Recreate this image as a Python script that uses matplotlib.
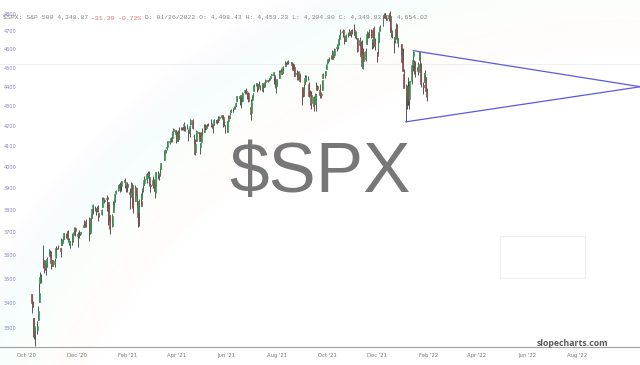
import numpy as np
import pandas as pd
import matplotlib
matplotlib.use('Agg')
import matplotlib.pyplot as plt
import matplotlib.dates as mdates
from matplotlib.patches import Rectangle

# ---- data: $SPX daily candles (open, high, low, close) ----
ohlc_2020_10 = [(3441, 3441, 3364, 3401), (3404, 3409, 3388, 3391), (3342, 3342, 3268, 3271),
                (3278, 3341, 3259, 3310), (3293, 3305, 3234, 3270)]
ohlc_2020_11 = [(3296, 3330, 3280, 3310), (3336, 3389, 3336, 3370), (3406, 3486, 3405, 3443),
                (3485, 3529, 3485, 3510), (3508, 3521, 3484, 3509), (3583, 3646, 3547, 3551),
                (3544, 3558, 3526, 3545), (3563, 3581, 3557, 3572), (3563, 3570, 3519, 3537),
                (3552, 3593, 3552, 3585), (3600, 3628, 3600, 3627), (3610, 3624, 3595, 3610),
                (3612, 3619, 3567, 3568), (3559, 3585, 3543, 3582), (3580, 3582, 3556, 3558),
                (3566, 3589, 3553, 3577), (3594, 3643, 3592, 3635), (3635, 3638, 3617, 3629),
                (3638, 3645, 3630, 3638), (3634, 3634, 3594, 3622)]
ohlc_2020_12 = [(3645, 3678, 3645, 3662), (3653, 3670, 3645, 3669), (3669, 3682, 3661, 3666),
                (3670, 3699, 3670, 3699), (3694, 3697, 3678, 3691), (3683, 3708, 3678, 3702),
                (3706, 3712, 3660, 3672), (3659, 3678, 3645, 3668), (3656, 3665, 3633, 3663),
                (3675, 3697, 3645, 3647), (3667, 3695, 3659, 3695), (3696, 3711, 3689, 3702),
                (3713, 3725, 3710, 3722), (3722, 3726, 3685, 3709), (3685, 3703, 3636, 3695),
                (3691, 3698, 3676, 3687), (3694, 3712, 3689, 3690), (3694, 3703, 3689, 3703),
                (3723, 3740, 3723, 3735), (3750, 3756, 3723, 3727), (3736, 3744, 3730, 3732),
                (3733, 3760, 3726, 3756)]
ohlc_2021_01 = [(3764, 3770, 3663, 3701), (3699, 3737, 3695, 3726), (3712, 3784, 3706, 3748),
                (3764, 3811, 3764, 3804), (3815, 3827, 3784, 3825), (3803, 3818, 3795, 3799),
                (3801, 3811, 3777, 3801), (3802, 3820, 3791, 3810), (3815, 3823, 3792, 3795),
                (3788, 3789, 3750, 3768), (3781, 3804, 3780, 3799), (3816, 3859, 3816, 3852),
                (3857, 3861, 3845, 3853), (3845, 3852, 3831, 3841), (3852, 3860, 3797, 3855),
                (3862, 3870, 3847, 3849), (3836, 3836, 3732, 3751), (3755, 3830, 3755, 3787),
                (3778, 3778, 3694, 3714)]
ohlc_2021_02 = [(3731, 3784, 3725, 3774), (3791, 3843, 3791, 3826), (3840, 3847, 3816, 3830),
                (3837, 3872, 3837, 3872), (3878, 3894, 3874, 3887), (3892, 3915, 3886, 3915),
                (3910, 3919, 3903, 3911), (3920, 3931, 3885, 3910), (3917, 3925, 3890, 3916),
                (3911, 3935, 3898, 3934), (3939, 3950, 3923, 3932), (3918, 3933, 3901, 3931),
                (3915, 3921, 3885, 3913), (3921, 3931, 3884, 3907), (3885, 3902, 3868, 3876),
                (3865, 3895, 3805, 3881), (3873, 3928, 3860, 3925), (3915, 3926, 3817, 3829),
                (3839, 3861, 3789, 3811)]
ohlc_2021_03 = [(3842, 3914, 3842, 3901), (3903, 3906, 3868, 3870), (3863, 3875, 3818, 3820),
                (3818, 3843, 3723, 3768), (3793, 3851, 3730, 3842), (3844, 3881, 3819, 3821),
                (3851, 3903, 3851, 3875), (3891, 3918, 3885, 3898), (3915, 3960, 3915, 3939),
                (3925, 3944, 3915, 3943), (3943, 3970, 3924, 3969), (3974, 3981, 3953, 3963),
                (3949, 3984, 3935, 3974), (3953, 3969, 3910, 3915), (3914, 3921, 3885, 3913),
                (3916, 3956, 3910, 3940), (3937, 3949, 3902, 3911), (3919, 3942, 3889, 3889),
                (3880, 3919, 3854, 3910), (3917, 3978, 3913, 3975), (3969, 3981, 3943, 3971),
                (3964, 3969, 3940, 3959), (3967, 3994, 3965, 3973)]
ohlc_2021_04 = [(3992, 4021, 3992, 4020), (4034, 4084, 4034, 4078), (4075, 4087, 4069, 4074),
                (4074, 4083, 4068, 4080), (4090, 4098, 4082, 4097), (4096, 4129, 4095, 4129),
                (4124, 4131, 4114, 4128), (4131, 4148, 4124, 4142), (4141, 4151, 4120, 4125),
                (4140, 4174, 4140, 4171), (4174, 4191, 4171, 4185), (4180, 4180, 4150, 4163),
                (4159, 4160, 4119, 4135), (4128, 4175, 4126, 4173), (4170, 4179, 4126, 4135),
                (4138, 4194, 4138, 4180), (4185, 4194, 4182, 4188), (4188, 4194, 4182, 4187),
                (4185, 4201, 4181, 4184), (4206, 4219, 4176, 4211), (4198, 4199, 4174, 4181)]
ohlc_2021_05 = [(4191, 4210, 4188, 4193), (4180, 4187, 4128, 4165), (4178, 4187, 4164, 4168),
                (4170, 4203, 4148, 4202), (4210, 4238, 4208, 4233), (4229, 4236, 4188, 4189),
                (4151, 4163, 4111, 4152), (4131, 4135, 4057, 4063), (4074, 4131, 4069, 4113),
                (4129, 4183, 4129, 4174), (4170, 4172, 4143, 4164), (4166, 4170, 4127, 4128),
                (4098, 4117, 4062, 4116), (4121, 4172, 4121, 4160), (4169, 4189, 4152, 4156),
                (4170, 4209, 4170, 4198), (4205, 4213, 4181, 4188), (4191, 4202, 4188, 4196),
                (4201, 4213, 4197, 4201), (4210, 4218, 4203, 4204)]
ohlc_2021_06 = [(4216, 4235, 4197, 4202), (4207, 4216, 4198, 4209), (4206, 4206, 4168, 4193),
                (4207, 4234, 4207, 4230), (4229, 4232, 4216, 4227), (4233, 4236, 4209, 4227),
                (4232, 4237, 4219, 4220), (4229, 4249, 4221, 4239), (4242, 4249, 4232, 4247),
                (4248, 4255, 4235, 4255), (4255, 4257, 4239, 4246), (4248, 4252, 4196, 4224),
                (4220, 4233, 4203, 4222), (4204, 4204, 4164, 4166), (4173, 4226, 4173, 4224),
                (4224, 4255, 4217, 4246), (4249, 4256, 4241, 4242), (4256, 4272, 4256, 4266),
                (4274, 4287, 4271, 4281), (4285, 4292, 4274, 4291), (4293, 4301, 4287, 4291),
                (4291, 4302, 4287, 4298)]
ohlc_2021_07 = [(4300, 4321, 4300, 4320), (4327, 4356, 4326, 4352), (4356, 4358, 4305, 4344),
                (4351, 4361, 4329, 4358), (4321, 4331, 4290, 4321), (4329, 4372, 4329, 4370),
                (4372, 4387, 4362, 4385), (4382, 4393, 4368, 4369), (4381, 4383, 4362, 4375),
                (4369, 4369, 4340, 4360), (4368, 4376, 4322, 4327), (4296, 4296, 4233, 4259),
                (4266, 4337, 4260, 4323), (4331, 4359, 4330, 4359), (4361, 4369, 4351, 4368),
                (4382, 4415, 4381, 4412), (4409, 4422, 4406, 4422), (4417, 4417, 4373, 4401),
                (4402, 4415, 4387, 4400), (4404, 4430, 4403, 4419), (4396, 4412, 4387, 4395)]
ohlc_2021_08 = [(4407, 4423, 4382, 4387), (4392, 4423, 4374, 4423), (4416, 4416, 4401, 4403),
                (4406, 4430, 4403, 4429), (4429, 4441, 4427, 4437), (4437, 4440, 4426, 4432),
                (4436, 4445, 4430, 4436), (4442, 4449, 4436, 4447), (4446, 4461, 4436, 4460),
                (4464, 4468, 4462, 4468), (4462, 4480, 4438, 4479), (4462, 4462, 4418, 4449),
                (4440, 4454, 4397, 4400), (4383, 4418, 4368, 4406), (4406, 4444, 4406, 4441),
                (4450, 4489, 4450, 4479), (4484, 4492, 4482, 4486), (4490, 4502, 4486, 4497),
                (4493, 4495, 4468, 4470), (4474, 4513, 4474, 4509), (4513, 4538, 4513, 4529),
                (4529, 4532, 4513, 4523)]
ohlc_2021_09 = [(4528, 4537, 4522, 4524), (4534, 4545, 4527, 4537), (4532, 4541, 4521, 4535),
                (4536, 4536, 4516, 4520), (4518, 4522, 4493, 4514), (4514, 4529, 4493, 4493),
                (4506, 4521, 4458, 4459), (4474, 4492, 4455, 4469), (4480, 4486, 4435, 4443),
                (4447, 4486, 4439, 4481), (4477, 4485, 4448, 4474), (4469, 4471, 4427, 4433),
                (4402, 4402, 4305, 4358), (4375, 4394, 4347, 4354), (4368, 4417, 4368, 4396),
                (4416, 4466, 4416, 4449), (4439, 4463, 4431, 4455), (4442, 4457, 4436, 4443),
                (4419, 4429, 4346, 4353), (4362, 4385, 4355, 4360), (4371, 4382, 4306, 4308)]
ohlc_2021_10 = [(4317, 4376, 4289, 4357), (4348, 4356, 4279, 4300), (4310, 4369, 4310, 4346),
                (4320, 4365, 4278, 4363), (4383, 4429, 4383, 4399), (4406, 4412, 4386, 4391),
                (4385, 4416, 4360, 4361), (4368, 4375, 4343, 4351), (4358, 4372, 4342, 4364),
                (4386, 4439, 4386, 4438), (4448, 4475, 4448, 4471), (4464, 4487, 4447, 4486),
                (4497, 4521, 4496, 4520), (4524, 4540, 4524, 4537), (4532, 4551, 4526, 4549),
                (4546, 4560, 4538, 4545), (4553, 4573, 4552, 4567), (4578, 4598, 4569, 4575),
                (4580, 4585, 4551, 4552), (4562, 4598, 4562, 4596), (4572, 4608, 4568, 4605)]
ohlc_2021_11 = [(4610, 4621, 4595, 4614), (4614, 4635, 4604, 4631), (4630, 4664, 4624, 4660),
                (4662, 4683, 4662, 4680), (4700, 4718, 4681, 4697), (4701, 4714, 4694, 4702),
                (4707, 4708, 4671, 4686), (4670, 4684, 4630, 4647), (4660, 4664, 4646, 4650),
                (4656, 4688, 4651, 4683), (4689, 4697, 4672, 4683), (4680, 4715, 4680, 4701),
                (4701, 4701, 4684, 4689), (4700, 4708, 4673, 4705), (4708, 4717, 4687, 4698),
                (4712, 4744, 4682, 4682), (4679, 4699, 4665, 4691), (4675, 4702, 4659, 4701),
                (4664, 4664, 4586, 4595), (4629, 4672, 4625, 4655), (4640, 4647, 4560, 4567)]
ohlc_2021_12 = [(4602, 4652, 4510, 4513), (4504, 4595, 4504, 4577), (4589, 4608, 4496, 4538),
                (4549, 4612, 4541, 4592), (4632, 4695, 4632, 4687), (4691, 4705, 4670, 4701),
                (4691, 4695, 4665, 4668), (4687, 4713, 4671, 4712), (4711, 4713, 4666, 4669),
                (4642, 4660, 4607, 4635), (4637, 4712, 4611, 4710), (4719, 4731, 4652, 4669),
                (4652, 4666, 4600, 4621), (4587, 4587, 4531, 4568), (4594, 4651, 4583, 4649),
                (4643, 4698, 4643, 4697), (4703, 4740, 4703, 4726), (4733, 4791, 4733, 4791),
                (4795, 4808, 4780, 4786), (4788, 4805, 4778, 4793), (4795, 4808, 4776, 4778),
                (4775, 4787, 4766, 4766)]
ohlc_2022_01 = [(4778, 4797, 4759, 4797), (4804, 4819, 4774, 4794), (4788, 4798, 4699, 4701),
                (4693, 4726, 4671, 4696), (4698, 4708, 4663, 4677), (4655, 4673, 4582, 4670),
                (4670, 4714, 4638, 4713), (4729, 4749, 4707, 4726), (4734, 4745, 4651, 4659),
                (4638, 4666, 4614, 4663), (4632, 4632, 4569, 4577), (4588, 4612, 4533, 4533),
                (4548, 4612, 4483, 4483), (4471, 4495, 4396, 4398), (4357, 4418, 4222, 4410),
                (4366, 4412, 4288, 4357), (4408, 4453, 4305, 4350), (4381, 4429, 4309, 4327),
                (4337, 4432, 4287, 4432), (4431, 4517, 4414, 4516)]
ohlc_2022_02 = [(4519, 4546, 4484, 4546), (4566, 4595, 4544, 4589), (4536, 4543, 4470, 4477),
                (4483, 4540, 4451, 4501), (4505, 4521, 4470, 4484), (4480, 4531, 4465, 4522),
                (4547, 4588, 4547, 4587), (4553, 4588, 4478, 4504), (4506, 4527, 4402, 4419),
                (4413, 4427, 4364, 4401), (4429, 4473, 4429, 4472), (4464, 4489, 4429, 4475),
                (4456, 4456, 4380, 4380), (4385, 4395, 4327, 4349)]

first_day, last_day = '2020-10-26', '2022-02-18'
market_holidays = ['2020-11-26', '2020-12-25', '2021-01-01', '2021-01-18', '2021-02-15',
                   '2021-04-02', '2021-05-31', '2021-07-05', '2021-09-06', '2021-11-25',
                   '2021-12-24', '2022-01-17']

# triangle drawn on the chart: (date, price)
tri_upper = [('2022-02-02', 4595), ('2022-11-05', 4402)]
tri_lower = [('2022-01-24', 4222), ('2022-11-05', 4402)]
cursor_price = 4525

y_ticks = [3300, 3400, 3500, 3600, 3700, 3800, 3900, 4000, 4100, 4200,
           4300, 4400, 4500, 4600, 4700, 4800]
x_tick_dates = ['2020-10-20', '2020-12-20', '2021-02-20', '2021-04-20', '2021-06-20', '2021-08-20',
                '2021-10-20', '2021-12-20', '2022-02-20', '2022-04-20', '2022-06-20', '2022-08-20']
x_tick_labels = ["Oct '20", "Dec '20", "Feb '21", "Apr '21", "Jun '21", "Aug '21",
                 "Oct '21", "Dec '21", "Feb '22", "Apr '22", "Jun '22", "Aug '22"]

header_a = "$SPX: S&P 500 4,348.87 "
header_b = "-31.39 -0.72%"
header_c = " D: 01/26/2022 O: 4,408.43 H: 4,453.23 L: 4,304.80 C: 4,349.93 T: 4,654.02"

# ---- build frame ----
rows = (ohlc_2020_10 + ohlc_2020_11 + ohlc_2020_12 + ohlc_2021_01 + ohlc_2021_02 + ohlc_2021_03
        + ohlc_2021_04 + ohlc_2021_05 + ohlc_2021_06 + ohlc_2021_07 + ohlc_2021_08 + ohlc_2021_09
        + ohlc_2021_10 + ohlc_2021_11 + ohlc_2021_12 + ohlc_2022_01 + ohlc_2022_02)
days = pd.bdate_range(first_day, last_day, freq='C', holidays=market_holidays)
df = pd.DataFrame(rows, columns=['Open', 'High', 'Low', 'Close'], index=days[:len(rows)])

fig = plt.figure(figsize=(6.4, 3.65), dpi=100)
fig.patch.set_facecolor('white')

# faint rainbow arc in the background
bg = fig.add_axes([0, 0, 1, 1])
bg.set_axis_off()
yy, xx = np.mgrid[0:365, 0:640]
t = (np.hypot(xx - 620, yy - 660) - 600) / 150
rgba = plt.cm.rainbow(np.clip(1 - t, 0, 1))
rgba[..., 3] = np.where((t > 0) & (t < 1), 0.045 * np.sin(np.pi * np.clip(t, 0, 1)), 0)
bg.imshow(rgba, extent=[0, 640, 365, 0], aspect='auto', interpolation='bilinear')
bg.set_xlim(0, 640)
bg.set_ylim(365, 0)

ax = fig.add_axes([0, 18 / 365, 1, 347 / 365])
ax.patch.set_alpha(0)
ax.set_yscale('log')

x = mdates.date2num(df.index)
up = df.Close >= df.Open
body_lo = np.minimum(df.Open, df.Close)
body_h = np.abs(df.Close - df.Open).clip(lower=2)
colors = np.where(up, '#3c9458', '#8f5050')
ax.vlines(x, df.Low, df.High, color='#3a3a3a', linewidth=0.6, zorder=2)
ax.bar(x, body_h, bottom=body_lo, width=1.1, color=colors, edgecolor=colors,
       linewidth=0.5, zorder=3)

# triangle
for seg in (tri_upper, tri_lower):
    sx = mdates.date2num(pd.to_datetime([p[0] for p in seg]))
    ax.plot(sx, [p[1] for p in seg], color='#5a5ae0', linewidth=0.9, zorder=4)

ax.axhline(cursor_price, color='#ececec', linewidth=0.6, zorder=1)

ref = mdates.date2num(pd.Timestamp('2020-10-30'))
ppd = 0.8226
ax.set_xlim(ref - 35 / ppd, ref + 605 / ppd)
ax.set_ylim(3229, 4881)

ax.set_yticks([])
ax.yaxis.set_minor_locator(matplotlib.ticker.NullLocator())
for v in y_ticks:
    ax.text(0.006, v, str(v), transform=ax.get_yaxis_transform(), fontsize=3.6,
            color='#8585b8', va='center', ha='left')

ax.set_xticks(mdates.date2num(pd.to_datetime(x_tick_dates)))
ax.set_xticklabels(x_tick_labels)
ax.tick_params(axis='x', length=0, pad=4, labelsize=3.8, labelcolor='#777777')
for s in ('top', 'left', 'right'):
    ax.spines[s].set_visible(False)
ax.spines['bottom'].set_color('#a0a0a0')
ax.spines['bottom'].set_linewidth(0.8)

# header line (monospace, so parts can be placed by character count)
hx, hy, hfs = 3 / 640, 1 - 18 / 365, 4.6
cw = 0.6 * hfs / 72 * 100 / 640
fig.text(hx, hy, header_a.replace('$', r'\$'), family='Liberation Mono', fontsize=hfs,
         color='#858585', va='center')
fig.text(hx + cw * len(header_a), hy, header_b, family='Liberation Mono', fontsize=hfs,
         color='#e07070', va='center')
fig.text(hx + cw * (len(header_a) + len(header_b)), hy, header_c, family='Liberation Mono',
         fontsize=hfs, color='#858585', va='center')

fig.text(0.5, 1 - 174 / 365, r'\$SPX', family='Liberation Sans', fontsize=51,
         color='#777777', ha='center', va='center')
fig.text(572 / 640, 1 - 343 / 365, 'slopecharts.com', family='Open Sans', fontweight='bold',
         fontsize=6.3, color='#5a5a5a', ha='center', va='center')
fig.patches.append(Rectangle((500 / 640, 1 - 278 / 365), 85 / 640, 42 / 365,
                             transform=fig.transFigure, fill=False, edgecolor='#ececec',
                             linewidth=0.6))

fig.savefig('out.png', dpi=100, facecolor='white')
